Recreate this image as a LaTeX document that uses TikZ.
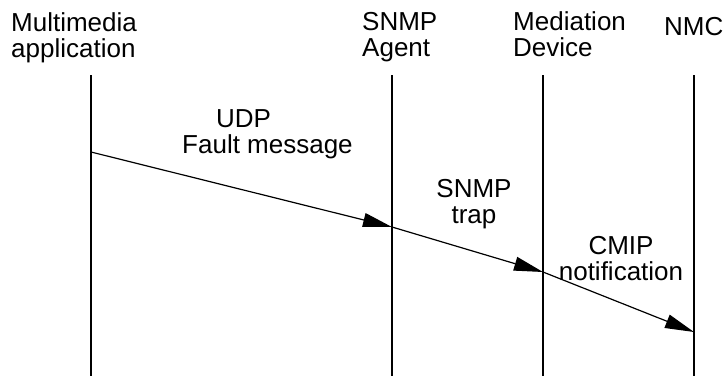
\documentclass[tikz,border=0pt]{standalone}
\usepackage{fontspec}
\setmainfont{Liberation Sans}
\usetikzlibrary{arrows.meta}
\begin{document}
\begin{tikzpicture}[x=1pt,y=-1pt,
  lbl/.style={inner sep=0pt,font=\fontsize{26}{26}\selectfont},
  life/.style={line width=1.2pt},
  msg/.style={line width=1.2pt,-{Triangle[length=29pt,width=14pt]}}]
\useasboundingbox (0,0) rectangle (725,376);
% lifelines
\coordinate (a1) at (91,75);  \coordinate (a2) at (91,376);
\coordinate (b1) at (392,75); \coordinate (b2) at (392,376);
\coordinate (c1) at (543,75); \coordinate (c2) at (543,376);
\coordinate (d1) at (694,75); \coordinate (d2) at (694,376);
\draw[life] (a1) -- (a2);
\draw[life] (b1) -- (b2);
\draw[life] (c1) -- (c2);
\draw[life] (d1) -- (d2);
% headers
\node[lbl,anchor=base west,align=left] (hA) at (11,57) {Multimedia\\application};
\node[lbl,anchor=base west,align=left] (hB) at (362,56) {SNMP\\Agent};
\node[lbl,anchor=base west,align=left] (hC) at (513,56) {Mediation\\Device};
\node[lbl,anchor=base west] (hD) at (664,35) {NMC};
% message points
\coordinate (m1) at (91,152);
\coordinate (m2) at (392,227);
\coordinate (m3) at (543,272);
\coordinate (m4) at (694,332);
\draw[msg] (m1) -- (m2);
\draw[msg] (m2) -- (m3);
\draw[msg] (m3) -- (m4);
% message labels
\node[lbl,anchor=base west,align=left] (l1) at (182,153) {\hspace{34pt}UDP\\Fault message};
\node[lbl,anchor=base,align=center] (l2) at (474,223) {SNMP\\trap};
\node[lbl,anchor=base,align=center] (l3) at (621,280) {CMIP\\notification};
\end{tikzpicture}
\end{document}
